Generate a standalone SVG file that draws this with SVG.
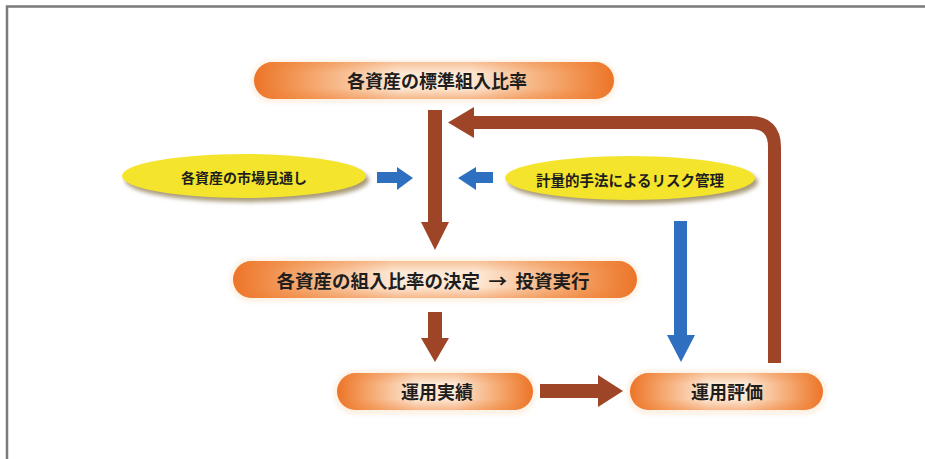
<svg xmlns="http://www.w3.org/2000/svg" width="925" height="459" viewBox="0 0 925 459">
  <defs>
    <linearGradient id="pillH" x1="0" y1="0" x2="1" y2="0">
      <stop offset="0" stop-color="#ec7427"/>
      <stop offset="0.15" stop-color="#f4a266"/>
      <stop offset="0.4" stop-color="#fde9d6"/>
      <stop offset="0.6" stop-color="#fde9d6"/>
      <stop offset="0.85" stop-color="#f4a266"/>
      <stop offset="1" stop-color="#ec7427"/>
    </linearGradient>
    <linearGradient id="pillV" x1="0" y1="0" x2="0" y2="1">
      <stop offset="0" stop-color="#ee7a2c" stop-opacity="0.35"/>
      <stop offset="0.3" stop-color="#ee7a2c" stop-opacity="0"/>
      <stop offset="0.7" stop-color="#ee7a2c" stop-opacity="0"/>
      <stop offset="1" stop-color="#ee7a2c" stop-opacity="0.45"/>
    </linearGradient>
    <filter id="blur" x="-10%" y="-30%" width="120%" height="160%">
      <feGaussianBlur stdDeviation="2"/>
    </filter>
    <style>
      .pill { fill: url(#pillH); }
      .pillv { fill: url(#pillV); }
      .glow { fill: #fdf1e4; filter: url(#blur); }
      .ell { fill: #f4e52c; }
      .ellsh { fill: #a89a78; filter: url(#blur); }
      .brown { fill: #9e4427; }
      .brownS { fill: none; stroke: #9e4427; stroke-width: 13; }
      .blue { fill: #2e6fbf; }
      .t { font-family: "Noto Sans CJK JP", "Noto Sans CJK SC", sans-serif; font-weight: 700; fill: #1e1e1e; text-anchor: middle; dominant-baseline: central; }
      .frame { stroke: #7a7a7a; stroke-width: 2.5; fill: none; }
    </style>
  </defs>

  <rect width="925" height="459" fill="#ffffff"/>
  <path class="frame" d="M7,459 V6.5 H925"/>

  <g id="node-standard">
    <rect class="glow" x="251" y="60" width="366" height="43" rx="21"/>
    <rect class="pill" x="254" y="62" width="360" height="37" rx="18.5"/>
    <rect class="pillv" x="254" y="62" width="360" height="37" rx="18.5"/>
    <text class="t" x="437" y="80" font-size="18">各資産の標準組入比率</text>
  </g>

  <g id="node-market">
    <ellipse class="ellsh" cx="247" cy="180" rx="122" ry="22"/>
    <ellipse class="ell" cx="244" cy="176" rx="122" ry="22"/>
    <text class="t" x="244" y="177" font-size="14">各資産の市場見通し</text>
  </g>

  <g id="node-risk">
    <ellipse class="ellsh" cx="633" cy="182" rx="125" ry="22"/>
    <ellipse class="ell" cx="630" cy="178" rx="125" ry="22"/>
    <text class="t" x="630" y="179" font-size="14.5">計量的手法によるリスク管理</text>
  </g>

  <g id="node-decide">
    <rect class="glow" x="230" y="258" width="410" height="44" rx="21"/>
    <rect class="pill" x="233" y="261" width="404" height="37" rx="18.5"/>
    <rect class="pillv" x="233" y="261" width="404" height="37" rx="18.5"/>
    <text class="t" x="433" y="280" font-size="18.5" xml:space="preserve">各資産の組入比率の決定  →  投資実行</text>
  </g>

  <g id="node-result">
    <rect class="glow" x="334" y="370" width="202" height="45" rx="21"/>
    <rect class="pill" x="337" y="373" width="196" height="37" rx="18.5"/>
    <rect class="pillv" x="337" y="373" width="196" height="37" rx="18.5"/>
    <text class="t" x="437" y="391" font-size="18">運用実績</text>
  </g>

  <g id="node-eval">
    <rect class="glow" x="627" y="370" width="199" height="45" rx="21"/>
    <rect class="pill" x="630" y="373" width="193" height="37" rx="18.5"/>
    <rect class="pillv" x="630" y="373" width="193" height="37" rx="18.5"/>
    <text class="t" x="727" y="391" font-size="18">運用評価</text>
  </g>

  <g id="connectors">
    <polygon class="brown" points="428,110 442,110 442,222 449,222 435,250 421,222 428,222"/>
    <path class="brownS" d="M774.5,363 V147 Q774.5,122.5 750,122.5 H470"/>
    <polygon class="brown" points="448,122.5 474,107 474,138"/>
    <polygon class="blue" points="377,172 397,172 397,167 413,178 397,190 397,183 377,183"/>
    <polygon class="blue" points="493,172 476,172 476,167 458,178 476,190 476,183 493,183"/>
    <polygon class="blue" points="674,221 687,221 687,335 695,335 681,362 667,335 674,335"/>
    <polygon class="brown" points="428,312 442,312 442,338 449,338 435,362 421,338 428,338"/>
    <polygon class="brown" points="540,384 598,384 598,375 623,391 598,407 598,398 540,398"/>
  </g>
</svg>
